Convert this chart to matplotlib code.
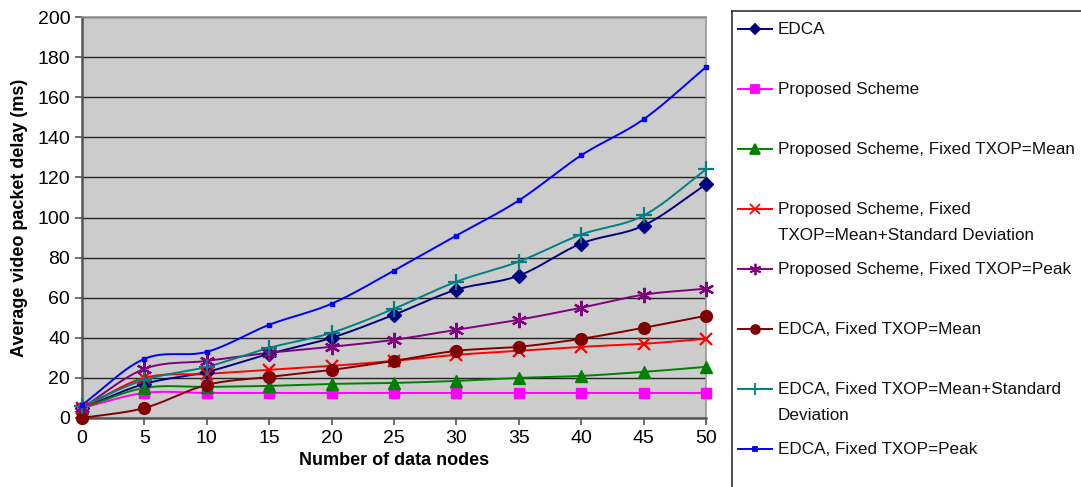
import matplotlib.pyplot as plt
import numpy as np
from matplotlib.lines import Line2D

plt.rcParams['font.family'] = ['Liberation Sans', 'DejaVu Sans']

nodes = [0, 5, 10, 15, 20, 25, 30, 35, 40, 45, 50]

edca = [5, 17, 23, 32, 40, 51.5, 64, 71, 87, 96, 116.5]
proposed = [5, 12.5, 12.5, 12.5, 12.5, 12.5, 12.5, 12.5, 12.5, 12.5, 12.5]
prop_mean = [5, 15, 15.5, 16, 17, 17.5, 18.5, 20, 21, 23, 25.5]
prop_mean_sd = [5, 20, 22, 24, 26, 28.5, 31.5, 33.5, 35.5, 37, 39.5]
prop_peak = [5, 24.5, 28.5, 32.5, 35.5, 39, 44, 49, 55, 61.5, 64.5]
edca_mean = [0, 5, 16.5, 20.5, 24, 28.5, 33.5, 35.5, 39.5, 45, 51]
edca_mean_sd = [6, 19, 25.5, 35, 42.5, 54.5, 68, 78, 91.5, 101, 124]
edca_peak = [6.5, 29.5, 33, 46.5, 57, 73.5, 91, 108.5, 131, 149, 175]

labels = [
    ['EDCA'],
    ['Proposed Scheme'],
    ['Proposed Scheme, Fixed TXOP=Mean'],
    ['Proposed Scheme, Fixed', 'TXOP=Mean+Standard Deviation'],
    ['Proposed Scheme, Fixed TXOP=Peak'],
    ['EDCA, Fixed TXOP=Mean'],
    ['EDCA, Fixed TXOP=Mean+Standard', 'Deviation'],
    ['EDCA, Fixed TXOP=Peak'],
]
series = [edca, proposed, prop_mean, prop_mean_sd, prop_peak, edca_mean, edca_mean_sd, edca_peak]

# colour, marker, marker size, filled
styles = [
    ('#000080', 'D', 7, True),
    ('#ff00ff', 's', 7.5, True),
    ('#008000', '^', 9, True),
    ('#ff0000', 'x', 9, False),
    ('#800080', (6, 2, 0), 11, False),
    ('#800000', 'o', 8.5, True),
    ('#008080', '+', 11, False),
    ('#0000ff', 's', 3.5, True),
]


def smooth(x, y, n=30):
    # Catmull-Rom style smoothing between the points
    x = np.asarray(x, float)
    y = np.asarray(y, float)
    px = np.concatenate([[2 * x[0] - x[1]], x, [2 * x[-1] - x[-2]]])
    py = np.concatenate([[2 * y[0] - y[1]], y, [2 * y[-1] - y[-2]]])
    xs, ys = [], []
    t = np.linspace(0, 1, n)
    for i in range(1, len(px) - 2):
        p0, p1, p2, p3 = px[i - 1:i + 3]
        q0, q1, q2, q3 = py[i - 1:i + 3]
        c1x, c1y = p1 + (p2 - p0) / 6, q1 + (q2 - q0) / 6
        c2x, c2y = p2 - (p3 - p1) / 6, q2 - (q3 - q1) / 6
        b = [(1 - t) ** 3, 3 * (1 - t) ** 2 * t, 3 * (1 - t) * t ** 2, t ** 3]
        xs.append(b[0] * p1 + b[1] * c1x + b[2] * c2x + b[3] * p2)
        ys.append(b[0] * q1 + b[1] * c1y + b[2] * c2y + b[3] * q2)
    return np.concatenate(xs), np.concatenate(ys)


W, H = 1081, 487
fig = plt.figure(figsize=(W / 100, H / 100), dpi=100)
ax = fig.add_axes([82 / W, 1 - 418 / H, (706 - 82) / W, (418 - 17) / H])
ax.set_facecolor('#cccccc')

for ys, (col, mk, ms, filled) in zip(series, styles):
    sx, sy = smooth(nodes, ys)
    ax.plot(sx, sy, color=col, lw=1.4, zorder=3, clip_on=False)
    ax.plot(nodes, ys, ls='none', marker=mk, ms=ms, color=col,
            mew=1.6 if not filled else 1, zorder=4, clip_on=False)

ax.set_xlim(0, 50)
ax.set_ylim(0, 200)
ax.set_xticks(nodes)
ax.set_yticks(np.arange(0, 201, 20))
ax.yaxis.grid(True, color='#222222', lw=1)
ax.set_axisbelow(True)
ax.tick_params(labelsize=14, length=5, width=1.2, color='#555555', direction='out')
for s in ['left', 'bottom']:
    ax.spines[s].set_color('#555555')
    ax.spines[s].set_linewidth(1.8)
for s in ['top', 'right']:
    ax.spines[s].set_color('#999999')
    ax.spines[s].set_linewidth(1.2)
ax.set_xlabel('Number of data nodes', fontsize=13, fontweight='bold', labelpad=4)
ax.set_ylabel('Average video packet delay (ms)', fontsize=13, fontweight='bold', labelpad=7)

# legend panel, drawn in pixel coordinates
lg = fig.add_axes([732 / W, -0.2, 0.5, 1.2 - 11 / H])
lg.set_xlim(732, 732 + 0.5 * W)
lg.set_ylim(H + 0.2 * H, 11)
lg.set_xticks([])
lg.set_yticks([])
for s in lg.spines.values():
    s.set_color('#333333')
    s.set_linewidth(1.2)

for i, (lab, (col, mk, ms, filled)) in enumerate(zip(labels, styles)):
    yy = 29 + 60 * i
    lg.add_line(Line2D([738, 772], [yy, yy], color=col, lw=1.4))
    lg.plot([755], [yy], marker=mk, ms=ms * 0.75, color=col, mew=1.3)
    for j, line in enumerate(lab):
        lg.text(778, yy + 26 * j, line, fontsize=12.3, va='center', ha='left', color='#111111')

fig.savefig('out.png', dpi=100)
